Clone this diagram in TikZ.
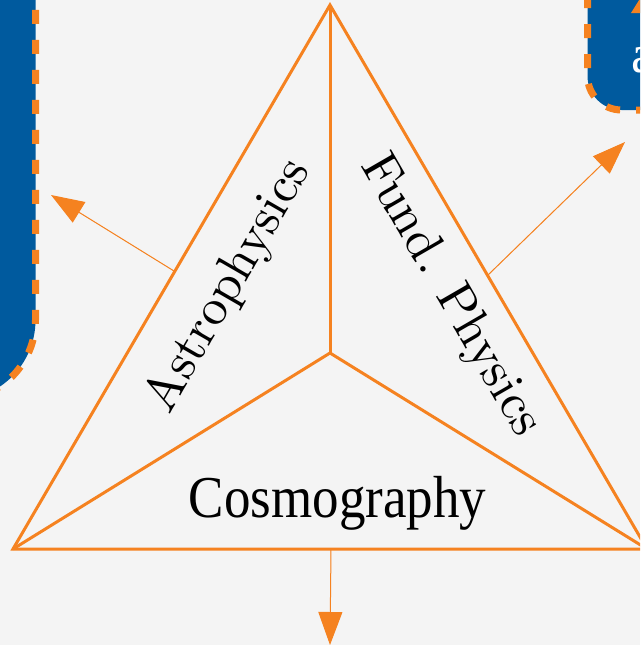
\documentclass[tikz,border=0pt]{standalone}
\usepackage{fontspec}
\newfontfamily\timesf{Liberation Serif}
\newfontfamily\lmten{lmroman10-regular.otf}
\usetikzlibrary{arrows.meta}
\definecolor{bgc}{HTML}{F4F4F4}
\definecolor{orng}{HTML}{F58220}
\definecolor{blu}{HTML}{005A9E}
\tikzset{
  edge/.style={draw=orng, line width=3pt, line join=miter},
  pointer/.style={draw=orng, line width=1pt, -{Triangle[length=33pt,width=24pt]}, fill=orng},
  bluebox/.style={fill=blu, draw=orng, line width=7pt, dash pattern=on 14pt off 16pt},
  lbl/.style={inner sep=0pt, font=\lmten\fontsize{51}{60}\selectfont},
}
\begin{document}
\begin{tikzpicture}[x=1pt,y=-1pt]
\useasboundingbox (0,0) rectangle (640,645);
\fill[bgc] (0,0) rectangle (640,645);
% blue boxes
\begin{scope}
\clip (0,0) rectangle (640,645);
\draw[bluebox, rounded corners=80pt] (-100,-100) -- (35.5,-100) -- (35.5,400) -- (-100,400) -- cycle;
\draw[bluebox, rounded corners=34pt] (587.5,-100) -- (587.5,110) -- (760,110) -- (760,-100) -- cycle;
\node[anchor=base west, inner sep=0pt, text=white, font=\timesf\fontsize{54}{60}\selectfont] (atext) at (631,72) {a};
\fill[orng] (631,13) -- (641,-3) -- (641,13) -- cycle;
\end{scope}
% triangle
\coordinate (apex) at (330,5);
\coordinate (bl) at (13,549);
\coordinate (br) at (647,549);
\coordinate (ctr) at (330,353);
\begin{scope}
\clip (0,0) rectangle (640,645);
\draw[edge] (apex) -- (bl) -- (br) -- cycle;
\draw[edge] (ctr) -- (apex);
\draw[edge] (ctr) -- (bl);
\draw[edge] (ctr) -- (br);
\end{scope}
% arrows
\coordinate (la) at (174,271);
\coordinate (lt) at (51,195);
\coordinate (ra) at (488,275);
\coordinate (rt) at (625,142);
\coordinate (ba) at (331,549);
\coordinate (bt) at (330,645);
\draw[pointer] (la) -- (lt);
\draw[pointer] (ra) -- (rt);
\draw[pointer] (ba) -- (bt);
% labels
\node[lbl, rotate=60] (astro) at (229,286) {Astrophysics};
\node[lbl, rotate=-60] (fund) at (450,296) {Fund. Physics};
\node[anchor=base, inner sep=0pt, font=\timesf\fontsize{53}{60}\selectfont] (cosmo) at (337.5,517) {\scalebox{1}[1.12]{Cosmography}};
\end{tikzpicture}
\end{document}
